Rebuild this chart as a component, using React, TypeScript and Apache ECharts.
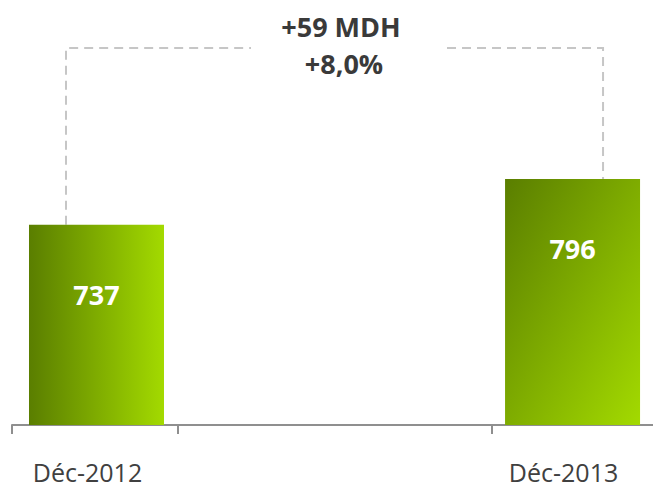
import React, { useEffect, useRef } from "react";
import * as echarts from "echarts";

// ---- data ----
const CATEGORIES = ["Déc-2012", "Déc-2013"];
const VALUES = [737, 796];
const UNIT = "MDH";

// ---- axis config ----
const Y_MIN = 480;
const Y_MAX = 1000;
const X_MIN = -0.1775;
const X_MAX = 1.169;
const X_TICKS = [X_MIN, 0.17, 0.83];

const FONT = "'Open Sans', 'Noto Sans', sans-serif";
const DARK = "#5a7e00";
const LIGHT = "#a3da00";
const DASH = "#c6c6c6";

export default function App() {
  const ref = useRef<HTMLDivElement>(null);

  useEffect(() => {
    document.body.style.margin = "0";
    if (!ref.current) return;
    const chart = echarts.init(ref.current, null, { renderer: "svg" });

    const gradH = new echarts.graphic.LinearGradient(0, 0, 1, 0, [
      { offset: 0, color: DARK },
      { offset: 1, color: LIGHT },
    ]);
    const gradD = new echarts.graphic.LinearGradient(0, 0, 1, 1, [
      { offset: 0, color: DARK },
      { offset: 1, color: LIGHT },
    ]);

    const option: any = {
      animation: false,
      grid: { left: 12, right: 0, top: 20, bottom: 62 },
      xAxis: {
        type: "value",
        min: X_MIN,
        max: X_MAX,
        splitLine: { show: false },
        axisLine: { show: true, onZero: false, lineStyle: { color: "#8f8f8f", width: 2 } },
        axisTick: {
          show: true,
          customValues: X_TICKS,
          length: 9,
          lineStyle: { color: "#8f8f8f", width: 2 },
        },
        axisLabel: {
          customValues: CATEGORIES.map((_, i) => i),
          formatter: (v: number) => CATEGORIES[Math.round(v)] ?? "",
          margin: 34,
          fontSize: 25,
          lineHeight: 25,
          color: "#404040",
          fontFamily: FONT,
          padding: [0, 18, 0, 0],
        },
      },
      yAxis: {
        type: "value",
        min: Y_MIN,
        max: Y_MAX,
        show: false,
        splitLine: { show: false },
      },
      series: [
        {
          type: "bar",
          barWidth: 135,
          data: VALUES.map((v, i) => ({
            value: [i, v],
            itemStyle: { color: i === 0 ? gradH : gradD },
          })),
          label: {
            show: true,
            position: "insideTop",
            distance: 56,
            formatter: (p: any) => String(p.value[1]),
            color: "#ffffff",
            fontSize: 27,
            lineHeight: 27,
            fontWeight: "bold",
            fontFamily: FONT,
          },
        },
      ],
    };
    chart.setOption(option);

    const p1 = chart.convertToPixel({ gridIndex: 0 }, [0, VALUES[0]]) as number[];
    const p2 = chart.convertToPixel({ gridIndex: 0 }, [1, VALUES[1]]) as number[];
    const diff = VALUES[1] - VALUES[0];
    const pct = ((diff / VALUES[0]) * 100).toFixed(1).replace(".", ",");
    const lineY = 48;
    const lx = p1[0] - 30.5;
    const rx = p2[0] + 30.5;
    const dashStyle = { stroke: DASH, lineWidth: 2, lineDash: [9, 6], fill: null };
    const textStyle = {
      fontSize: 27,
      fontWeight: "bold",
      fontFamily: FONT,
      fill: "#3a3a3a",
      align: "center",
      verticalAlign: "middle",
    };

    chart.setOption({
      graphic: [
        {
          type: "polyline",
          shape: { points: [[lx, p1[1]], [lx, lineY], [251, lineY]] },
          style: dashStyle,
          z: 1,
        },
        {
          type: "polyline",
          shape: { points: [[447, lineY], [rx, lineY], [rx, p2[1]]] },
          style: dashStyle,
          z: 1,
        },
        {
          type: "text",
          x: 341,
          y: 26,
          style: { ...textStyle, text: `+${diff} ${UNIT}` },
        },
        {
          type: "text",
          x: 344,
          y: 63,
          style: { ...textStyle, text: `+${pct}%` },
        },
      ],
    });

    return () => chart.dispose();
  }, []);

  return <div ref={ref} style={{ width: 653, height: 487 }} />;
}
